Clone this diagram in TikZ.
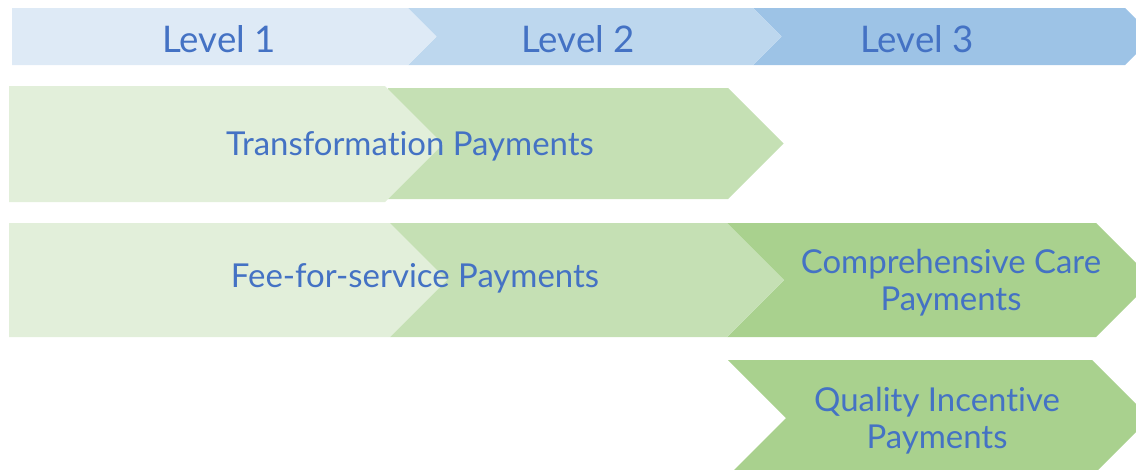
\documentclass[tikz,border=0pt]{standalone}
\usepackage{fontspec}
\setmainfont{Lato}[Ligatures=NoCommon]
\definecolor{lvlone}{HTML}{DEEAF6}
\definecolor{lvltwo}{HTML}{BDD7EE}
\definecolor{lvlthree}{HTML}{9DC3E6}
\definecolor{grnone}{HTML}{E2EFDA}
\definecolor{grntwo}{HTML}{C5E0B4}
\definecolor{grnthree}{HTML}{A9D18E}
\definecolor{txtblue}{HTML}{4472C4}
\begin{document}
\begin{tikzpicture}[x=0.75pt, y=-0.75pt,
    lvltext/.style={text=txtblue, inner sep=0pt, font=\fontsize{27.5}{32}\selectfont},
    paytext/.style={text=txtblue, inner sep=0pt, align=center, font=\fontsize{24.7}{27.5}\selectfont}]
    \clip (0,0) rectangle (1136,469);
    % level bar
    \fill[lvlthree] (753,8) -- (1125,8) -- (1153.5,36.5) -- (1125,65) -- (753,65) -- (781.5,36.5) -- cycle;
    \fill[lvltwo] (408,8) -- (753,8) -- (781.5,36.5) -- (753,65) -- (408,65) -- (436.5,36.5) -- cycle;
    \fill[lvlone] (12,8) -- (408,8) -- (436.5,36.5) -- (408,65) -- (12,65) -- cycle;
    \node[lvltext, anchor=base] (lvl1) at (219,52) {Level 1};
    \node[lvltext, anchor=base] (lvl2) at (578,52) {Level 2};
    \node[lvltext, anchor=base] (lvl3) at (917,52) {Level 3};
    % transformation row
    \fill[grntwo] (388,88) -- (728,88) -- (783.5,143.5) -- (728,199) -- (388,199) -- cycle;
    \fill[grnone] (9,86) -- (385,86) -- (443,144) -- (385,202) -- (9,202) -- cycle;
    \node[paytext, anchor=base] (transform) at (410,155) {Transformation Payments};
    % fee-for-service row
    \fill[grnthree] (727,223) -- (1096,223) -- (1153,280) -- (1096,337) -- (727,337) -- (784,280) -- cycle;
    \fill[grntwo] (390,223) -- (727,223) -- (784,280) -- (727,337) -- (390,337) -- cycle;
    \fill[grnone] (9,223) -- (390,223) -- (447,280) -- (390,337) -- (9,337) -- cycle;
    \node[paytext, anchor=base] (fee) at (415,287) {Fee-for-service Payments};
    \node[paytext] (compcare) at (951,283) {Comprehensive Care\\Payments};
    % quality row
    \fill[grnthree] (728,360) -- (1092,360) -- (1150,418) -- (1092,476) -- (728,476) -- (786,418) -- cycle;
    \node[paytext] (quality) at (937,421) {Quality Incentive\\Payments};
\end{tikzpicture}
\end{document}
